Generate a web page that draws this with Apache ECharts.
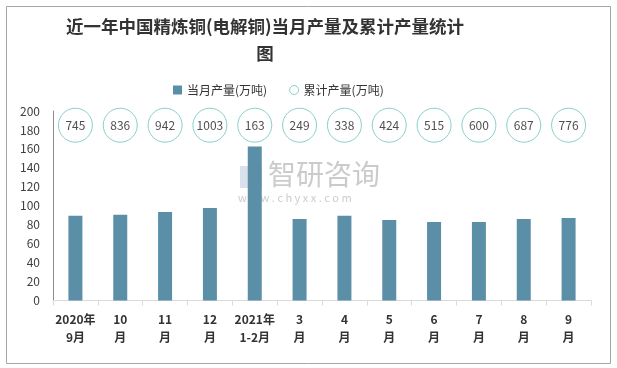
<!DOCTYPE html>
<html>
<head>
<meta charset="utf-8">
<script src="https://cdn.jsdelivr.net/npm/echarts@6/dist/echarts.min.js"></script>
<style>
html,body{margin:0;padding:0;background:#fff;}
#chart{width:617px;height:368px;}
</style>
</head>
<body>
<div id="chart"></div>
<script>
const categories = ['2020年\n9月','10\n月','11\n月','12\n月','2021年\n1-2月','3\n月','4\n月','5\n月','6\n月','7\n月','8\n月','9\n月'];
const monthlyOutput = [89.5, 90.6, 93.4, 97.6, 162.5, 86, 89.5, 85, 82.8, 82.8, 86, 87];
const cumulativeOutput = [745, 836, 942, 1003, 163, 249, 338, 424, 515, 600, 687, 776];
const yTicks = { min: 0, max: 200, interval: 20 };
const bubbleRow = 185;

const chart = echarts.init(document.getElementById('chart'));
const font = '"Noto Sans CJK SC", "Noto Sans", sans-serif';

chart.setOption({
  backgroundColor: '#fff',
  animation: false,
  title: {
    text: '近一年中国精炼铜(电解铜)当月产量及累计产量统计\n图',
    left: 260,
    top: 8,
    textAlign: 'center',
    textStyle: { fontSize: 17.5, fontWeight: 'bold', color: '#333', fontFamily: font, lineHeight: 27 }
  },
  legend: {
    left: 168,
    top: 79,
    itemWidth: 9,
    itemHeight: 9,
    itemGap: 22,
    textStyle: { fontSize: 12, color: '#333', fontFamily: font },
    data: [
      { name: '当月产量(万吨)', icon: 'rect' },
      { name: '累计产量(万吨)', icon: 'circle', itemStyle: { color: '#fff', borderColor: '#6cc4bd', borderWidth: 1 } }
    ]
  },
  graphic: [
    { type: 'rect', shape: { x: 6.5, y: 6.5, width: 604, height: 357 }, style: { fill: 'none', stroke: '#a6a6a6', lineWidth: 1 }, z: -1 },
    { type: 'text', left: 268, top: 160, style: { text: '智研咨询', fontSize: 28, fill: 'rgba(160,160,160,0.55)', fontFamily: font } , z: 0},
    { type: 'text', left: 238, top: 192, style: { text: 'w w w . c h y x x . c o m', fontSize: 11, fill: 'rgba(160,160,160,0.55)', fontFamily: font }, z: 0 },
    { type: 'rect', shape: { x: 240, y: 166, width: 22, height: 22 }, style: { fill: 'rgba(150,170,200,0.35)' }, z: 0 }
  ],
  grid: { left: 53, right: 26, top: 111, bottom: 67.5 },
  xAxis: {
    type: 'category',
    data: categories,
    axisLine: { show: true, lineStyle: { color: '#d9d9d9' } },
    axisTick: { show: true, length: 5, lineStyle: { color: '#d9d9d9' } },
    axisLabel: { interval: 0, fontSize: 12, fontWeight: 'bold', color: '#333', lineHeight: 18, margin: 10, fontFamily: font }
  },
  yAxis: [
    {
      type: 'value',
      min: yTicks.min, max: yTicks.max, interval: yTicks.interval,
      axisLine: { show: true, lineStyle: { color: '#8c8c8c' } },
      axisTick: { show: false },
      splitLine: { show: false },
      axisLabel: { fontSize: 12, color: '#404040', margin: 13, fontFamily: font }
    },
    {
      type: 'value', min: yTicks.min, max: yTicks.max, show: false
    }
  ],
  series: [
    {
      name: '当月产量(万吨)',
      type: 'bar',
      data: monthlyOutput,
      barWidth: 14,
      itemStyle: { color: '#5b8fa8' }
    },
    {
      name: '累计产量(万吨)',
      type: 'scatter',
      yAxisIndex: 1,
      symbol: 'circle',
      symbolSize: 34,
      data: cumulativeOutput.map((v, i) => ({ value: [i, bubbleRow], cum: v })),
      itemStyle: { color: '#fff', borderColor: '#6cc4bd', borderWidth: 1 },
      label: {
        show: true, position: 'inside', color: '#222', fontSize: 12, fontFamily: font,
        formatter: p => String(p.data.cum)
      }
    }
  ]
});
</script>
</body>
</html>
